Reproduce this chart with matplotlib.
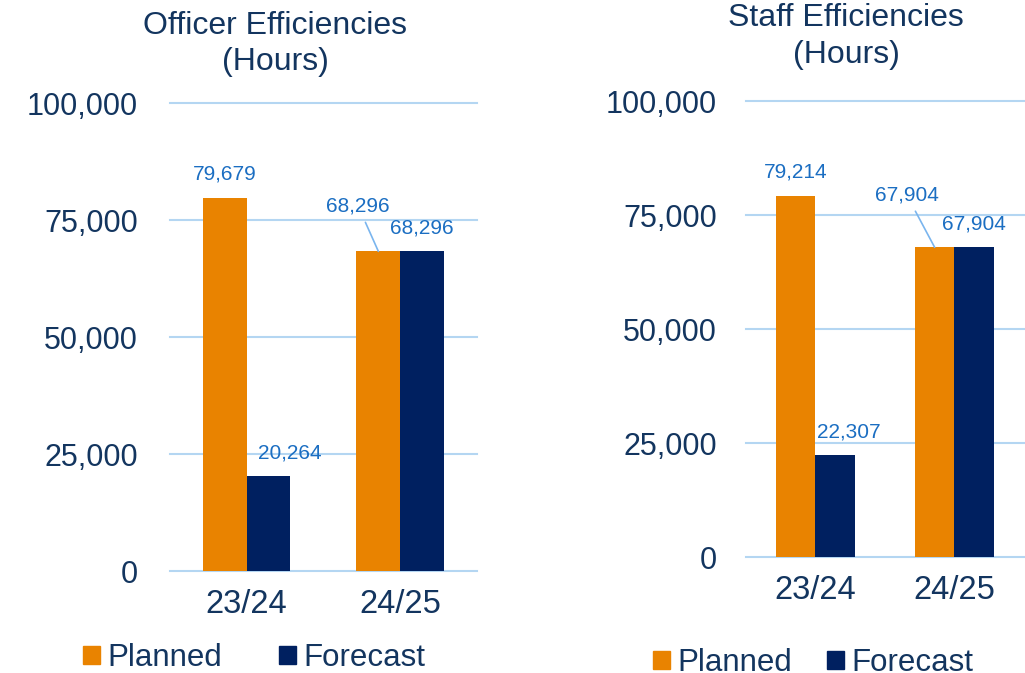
import matplotlib.pyplot as plt
from matplotlib.patches import Patch
from matplotlib.ticker import StrMethodFormatter

plt.rcParams['font.family'] = ['Liberation Sans', 'DejaVu Sans']

# Datos de eficiencias (horas)
years = ['23/24', '24/25']
officer_planned = [79679, 68296]
officer_forecast = [20264, 68296]
staff_planned = [79214, 67904]
staff_forecast = [22307, 67904]

# Colores
naranja = '#E98300'
azul_oscuro = '#002060'
azul_etiqueta = '#1B6EC2'
azul_texto = '#13355F'
azul_rejilla = '#B4D6F2'

ancho = 0.285

fig = plt.figure(figsize=(10.25, 6.73), dpi=100)
ax1 = fig.add_axes([0.16585, 0.15156, 0.29951, 0.69539])
ax2 = fig.add_axes([0.7278, 0.17236, 0.2712, 0.67756])


def dibujar(ax, planned, forecast, offsets, ypad):
    x = range(len(years))
    xp = [i - ancho / 2 for i in x]
    xf = [i + ancho / 2 for i in x]
    ax.bar(xp, planned, width=ancho, color=naranja, zorder=2)
    ax.bar(xf, forecast, width=ancho, color=azul_oscuro, zorder=2)

    ax.set_xlim(-0.5, 1.5)
    ax.set_ylim(0, 100000)
    ax.set_yticks([0, 25000, 50000, 75000, 100000])
    ax.yaxis.set_major_formatter(StrMethodFormatter('{x:,.0f}'))
    ax.set_xticks(list(x))
    ax.set_xticklabels(years)
    ax.tick_params(axis='y', length=0, pad=ypad, labelsize=22, labelcolor=azul_texto)
    ax.tick_params(axis='x', length=0, pad=13, labelsize=23.5, labelcolor=azul_texto)
    for s in ax.spines.values():
        s.set_visible(False)
    ax.set_axisbelow(True)
    ax.yaxis.grid(True, color=azul_rejilla, linewidth=1.5)
    for linea in ax.get_ygridlines():
        linea.set_clip_on(False)

    # Etiquetas de datos
    puntos = list(zip(xp, planned)) + list(zip(xf, forecast))
    for (px, v), (dx, dy, guia) in zip(puntos, offsets):
        props = None
        if guia:
            props = dict(arrowstyle='-', color='#7AB5EE', lw=1.2, shrinkA=3, shrinkB=0)
        ax.annotate(f'{v:,}', (px, v), xytext=(dx, dy), textcoords='offset points',
                    ha='center', va='center', fontsize=15, color=azul_etiqueta,
                    arrowprops=props, annotation_clip=False)


# offsets (pt): planned 23/24, planned 24/25, forecast 23/24, forecast 24/25
dibujar(ax1, officer_planned, officer_forecast,
        [(0, 17, False), (-14.5, 32.5, True), (15, 16.5, False), (0, 16.5, False)], 23)
dibujar(ax2, staff_planned, staff_forecast,
        [(0, 17, False), (-20, 37.5, True), (10, 17, False), (0, 17, False)], 21)

fig.text(275 / 1025, 1 - 44 / 673, 'Officer Efficiencies\n(Hours)', ha='center', va='center',
         fontsize=23, color=azul_texto, linespacing=1.28)
fig.text(846 / 1025, 1 - 36.5 / 673, 'Staff Efficiencies\n(Hours)', ha='center', va='center',
         fontsize=23, color=azul_texto, linespacing=1.3)

# Leyendas
handles = [Patch(color=naranja, label='Planned'), Patch(color=azul_oscuro, label='Forecast')]
for x0, y0, sep in [(83, 658, 1.8), (653, 663, 1.1)]:
    fig.legend(handles=handles, loc='center left', bbox_to_anchor=(x0 / 1025, 1 - y0 / 673),
               ncol=2, frameon=False, fontsize=22.5, labelcolor=azul_texto,
               handlelength=0.54, handleheight=0.54, handletextpad=0.25,
               columnspacing=sep, borderpad=0, borderaxespad=0)

plt.savefig('out.png', dpi=100)
